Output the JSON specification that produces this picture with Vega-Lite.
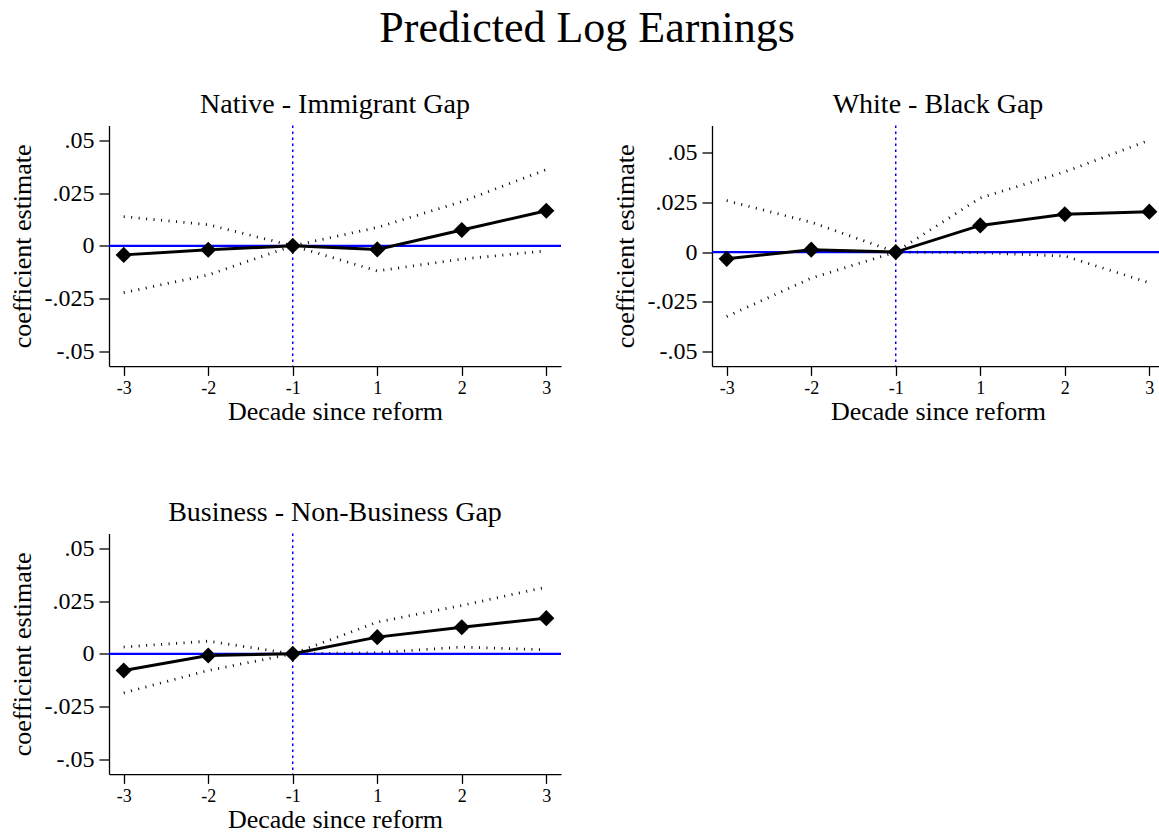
{
  "$schema": "https://vega.github.io/schema/vega-lite/v6.json",
  "background": "white",
  "padding": {"left": 9, "top": 6.5, "right": 0, "bottom": 0},
  "title": {"text": "Predicted Log Earnings", "fontSize": 44, "offset": 40, "anchor": "middle", "font": "Liberation Serif", "fontWeight": "normal", "color": "black"},
  "datasets": {
    "est": [
      {"panel": "Native - Immigrant Gap", "decade": -3, "coef": -0.0043, "lo": -0.0222, "hi": 0.0138},
      {"panel": "Native - Immigrant Gap", "decade": -2, "coef": -0.0019, "lo": -0.0138, "hi": 0.0100},
      {"panel": "Native - Immigrant Gap", "decade": -1, "coef": 0, "lo": 0, "hi": 0},
      {"panel": "Native - Immigrant Gap", "decade": 1, "coef": -0.0017, "lo": -0.0119, "hi": 0.0087},
      {"panel": "Native - Immigrant Gap", "decade": 2, "coef": 0.0075, "lo": -0.0063, "hi": 0.0209},
      {"panel": "Native - Immigrant Gap", "decade": 3, "coef": 0.0166, "lo": -0.0024, "hi": 0.0361},
      {"panel": "White - Black Gap", "decade": -3, "coef": -0.0034, "lo": -0.0324, "hi": 0.0258},
      {"panel": "White - Black Gap", "decade": -2, "coef": 0.0012, "lo": -0.0131, "hi": 0.0150},
      {"panel": "White - Black Gap", "decade": -1, "coef": 0, "lo": 0, "hi": 0},
      {"panel": "White - Black Gap", "decade": 1, "coef": 0.0134, "lo": -0.0003, "hi": 0.0272},
      {"panel": "White - Black Gap", "decade": 2, "coef": 0.0190, "lo": -0.0020, "hi": 0.0403},
      {"panel": "White - Black Gap", "decade": 3, "coef": 0.0203, "lo": -0.0154, "hi": 0.0562},
      {"panel": "Business - Non-Business Gap", "decade": -3, "coef": -0.0079, "lo": -0.0185, "hi": 0.0032},
      {"panel": "Business - Non-Business Gap", "decade": -2, "coef": -0.0008, "lo": -0.0079, "hi": 0.0060},
      {"panel": "Business - Non-Business Gap", "decade": -1, "coef": 0, "lo": 0, "hi": 0},
      {"panel": "Business - Non-Business Gap", "decade": 1, "coef": 0.0079, "lo": 0.0005, "hi": 0.0150},
      {"panel": "Business - Non-Business Gap", "decade": 2, "coef": 0.0126, "lo": 0.0032, "hi": 0.0229},
      {"panel": "Business - Non-Business Gap", "decade": 3, "coef": 0.0169, "lo": 0.0019, "hi": 0.0316}
    ]
  },
  "columns": 2,
  "spacing": {"row": 74, "column": 49},
  "concat": [
    {
      "title": "Native - Immigrant Gap",
      "width": 452, "height": 240.6,
      "data": {"name": "est"},
      "transform": [{"filter": "datum.panel == 'Native - Immigrant Gap'"}],
      "layer": [
        {"transform": [{"filter": "datum.decade == -1"}], "mark": {"type": "rule", "color": "#0000ff", "strokeWidth": 2.2}, "encoding": {"y": {"datum": 0, "type": "quantitative", "title": "coefficient estimate", "scale": {"domain": [-0.057, 0.057], "nice": false, "zero": false}, "axis": {"values": [-0.05, -0.025, 0, 0.025, 0.05], "labelExpr": "datum.value == 0 ? '0' : (datum.value < 0 ? '-' : '') + replace(format(abs(datum.value), '.3~f'), '0.', '.')"}}}},
        {"transform": [{"filter": "datum.decade == -1"}], "mark": {"type": "rule", "color": "#0000ff", "strokeWidth": 1.5, "strokeDash": [2.5, 3.5]}, "encoding": {"x": {"field": "decade", "type": "ordinal", "title": "Decade since reform", "scale": {"type": "point", "domain": [-3, -2, -1, 1, 2, 3], "padding": 0.174}}}},
        {"mark": {"type": "line", "color": "black", "strokeWidth": 2.8, "strokeDash": [1, 6.5]}, "encoding": {"x": {"field": "decade", "type": "ordinal", "title": "Decade since reform"}, "y": {"field": "hi", "type": "quantitative", "title": "coefficient estimate"}}},
        {"mark": {"type": "line", "color": "black", "strokeWidth": 2.8, "strokeDash": [1, 6.5]}, "encoding": {"x": {"field": "decade", "type": "ordinal", "title": "Decade since reform"}, "y": {"field": "lo", "type": "quantitative", "title": "coefficient estimate"}}},
        {"mark": {"type": "line", "color": "black", "strokeWidth": 3}, "encoding": {"x": {"field": "decade", "type": "ordinal", "title": "Decade since reform"}, "y": {"field": "coef", "type": "quantitative", "title": "coefficient estimate"}}},
        {"mark": {"type": "point", "shape": "diamond", "filled": true, "size": 260, "color": "black", "opacity": 1}, "encoding": {"x": {"field": "decade", "type": "ordinal", "title": "Decade since reform"}, "y": {"field": "coef", "type": "quantitative", "title": "coefficient estimate"}}}
      ]
    },
    {
      "title": "White - Black Gap",
      "width": 452, "height": 240.6,
      "data": {"name": "est"},
      "transform": [{"filter": "datum.panel == 'White - Black Gap'"}],
      "layer": [
        {"transform": [{"filter": "datum.decade == -1"}], "mark": {"type": "rule", "color": "#0000ff", "strokeWidth": 2.2}, "encoding": {"y": {"datum": 0, "type": "quantitative", "title": "coefficient estimate", "scale": {"domain": [-0.0573, 0.0636], "nice": false, "zero": false}, "axis": {"values": [-0.05, -0.025, 0, 0.025, 0.05], "labelExpr": "datum.value == 0 ? '0' : (datum.value < 0 ? '-' : '') + replace(format(abs(datum.value), '.3~f'), '0.', '.')"}}}},
        {"transform": [{"filter": "datum.decade == -1"}], "mark": {"type": "rule", "color": "#0000ff", "strokeWidth": 1.5, "strokeDash": [2.5, 3.5]}, "encoding": {"x": {"field": "decade", "type": "ordinal", "title": "Decade since reform", "scale": {"type": "point", "domain": [-3, -2, -1, 1, 2, 3], "padding": 0.174}}}},
        {"mark": {"type": "line", "color": "black", "strokeWidth": 2.8, "strokeDash": [1, 6.5]}, "encoding": {"x": {"field": "decade", "type": "ordinal", "title": "Decade since reform"}, "y": {"field": "hi", "type": "quantitative", "title": "coefficient estimate"}}},
        {"mark": {"type": "line", "color": "black", "strokeWidth": 2.8, "strokeDash": [1, 6.5]}, "encoding": {"x": {"field": "decade", "type": "ordinal", "title": "Decade since reform"}, "y": {"field": "lo", "type": "quantitative", "title": "coefficient estimate"}}},
        {"mark": {"type": "line", "color": "black", "strokeWidth": 3}, "encoding": {"x": {"field": "decade", "type": "ordinal", "title": "Decade since reform"}, "y": {"field": "coef", "type": "quantitative", "title": "coefficient estimate"}}},
        {"mark": {"type": "point", "shape": "diamond", "filled": true, "size": 260, "color": "black", "opacity": 1}, "encoding": {"x": {"field": "decade", "type": "ordinal", "title": "Decade since reform"}, "y": {"field": "coef", "type": "quantitative", "title": "coefficient estimate"}}}
      ]
    },
    {
      "title": "Business - Non-Business Gap",
      "width": 452, "height": 240.6,
      "data": {"name": "est"},
      "transform": [{"filter": "datum.panel == 'Business - Non-Business Gap'"}],
      "layer": [
        {"transform": [{"filter": "datum.decade == -1"}], "mark": {"type": "rule", "color": "#0000ff", "strokeWidth": 2.2}, "encoding": {"y": {"datum": 0, "type": "quantitative", "title": "coefficient estimate", "scale": {"domain": [-0.057, 0.057], "nice": false, "zero": false}, "axis": {"values": [-0.05, -0.025, 0, 0.025, 0.05], "labelExpr": "datum.value == 0 ? '0' : (datum.value < 0 ? '-' : '') + replace(format(abs(datum.value), '.3~f'), '0.', '.')"}}}},
        {"transform": [{"filter": "datum.decade == -1"}], "mark": {"type": "rule", "color": "#0000ff", "strokeWidth": 1.5, "strokeDash": [2.5, 3.5]}, "encoding": {"x": {"field": "decade", "type": "ordinal", "title": "Decade since reform", "scale": {"type": "point", "domain": [-3, -2, -1, 1, 2, 3], "padding": 0.174}}}},
        {"mark": {"type": "line", "color": "black", "strokeWidth": 2.8, "strokeDash": [1, 6.5]}, "encoding": {"x": {"field": "decade", "type": "ordinal", "title": "Decade since reform"}, "y": {"field": "hi", "type": "quantitative", "title": "coefficient estimate"}}},
        {"mark": {"type": "line", "color": "black", "strokeWidth": 2.8, "strokeDash": [1, 6.5]}, "encoding": {"x": {"field": "decade", "type": "ordinal", "title": "Decade since reform"}, "y": {"field": "lo", "type": "quantitative", "title": "coefficient estimate"}}},
        {"mark": {"type": "line", "color": "black", "strokeWidth": 3}, "encoding": {"x": {"field": "decade", "type": "ordinal", "title": "Decade since reform"}, "y": {"field": "coef", "type": "quantitative", "title": "coefficient estimate"}}},
        {"mark": {"type": "point", "shape": "diamond", "filled": true, "size": 260, "color": "black", "opacity": 1}, "encoding": {"x": {"field": "decade", "type": "ordinal", "title": "Decade since reform"}, "y": {"field": "coef", "type": "quantitative", "title": "coefficient estimate"}}}
      ]
    }
  ],
  "config": {
    "view": {"stroke": null},
    "font": "Liberation Serif",
    "title": {"font": "Liberation Serif", "fontSize": 28, "fontWeight": "normal", "color": "black", "offset": 6},
    "axis": {"grid": false, "domainColor": "black", "tickColor": "black", "domainWidth": 1.3, "tickWidth": 1.3, "labelFont": "Liberation Serif", "titleFont": "Liberation Serif", "labelColor": "black", "titleColor": "black", "titleFontWeight": "normal"},
    "axisX": {"labelFontSize": 18, "titleFontSize": 26, "tickSize": 9.3, "labelPadding": 4, "titlePadding": 1, "labelAngle": 0},
    "axisY": {"labelFontSize": 24, "titleFontSize": 26, "tickSize": 10, "labelPadding": 5, "titlePadding": 9}
  }
}
